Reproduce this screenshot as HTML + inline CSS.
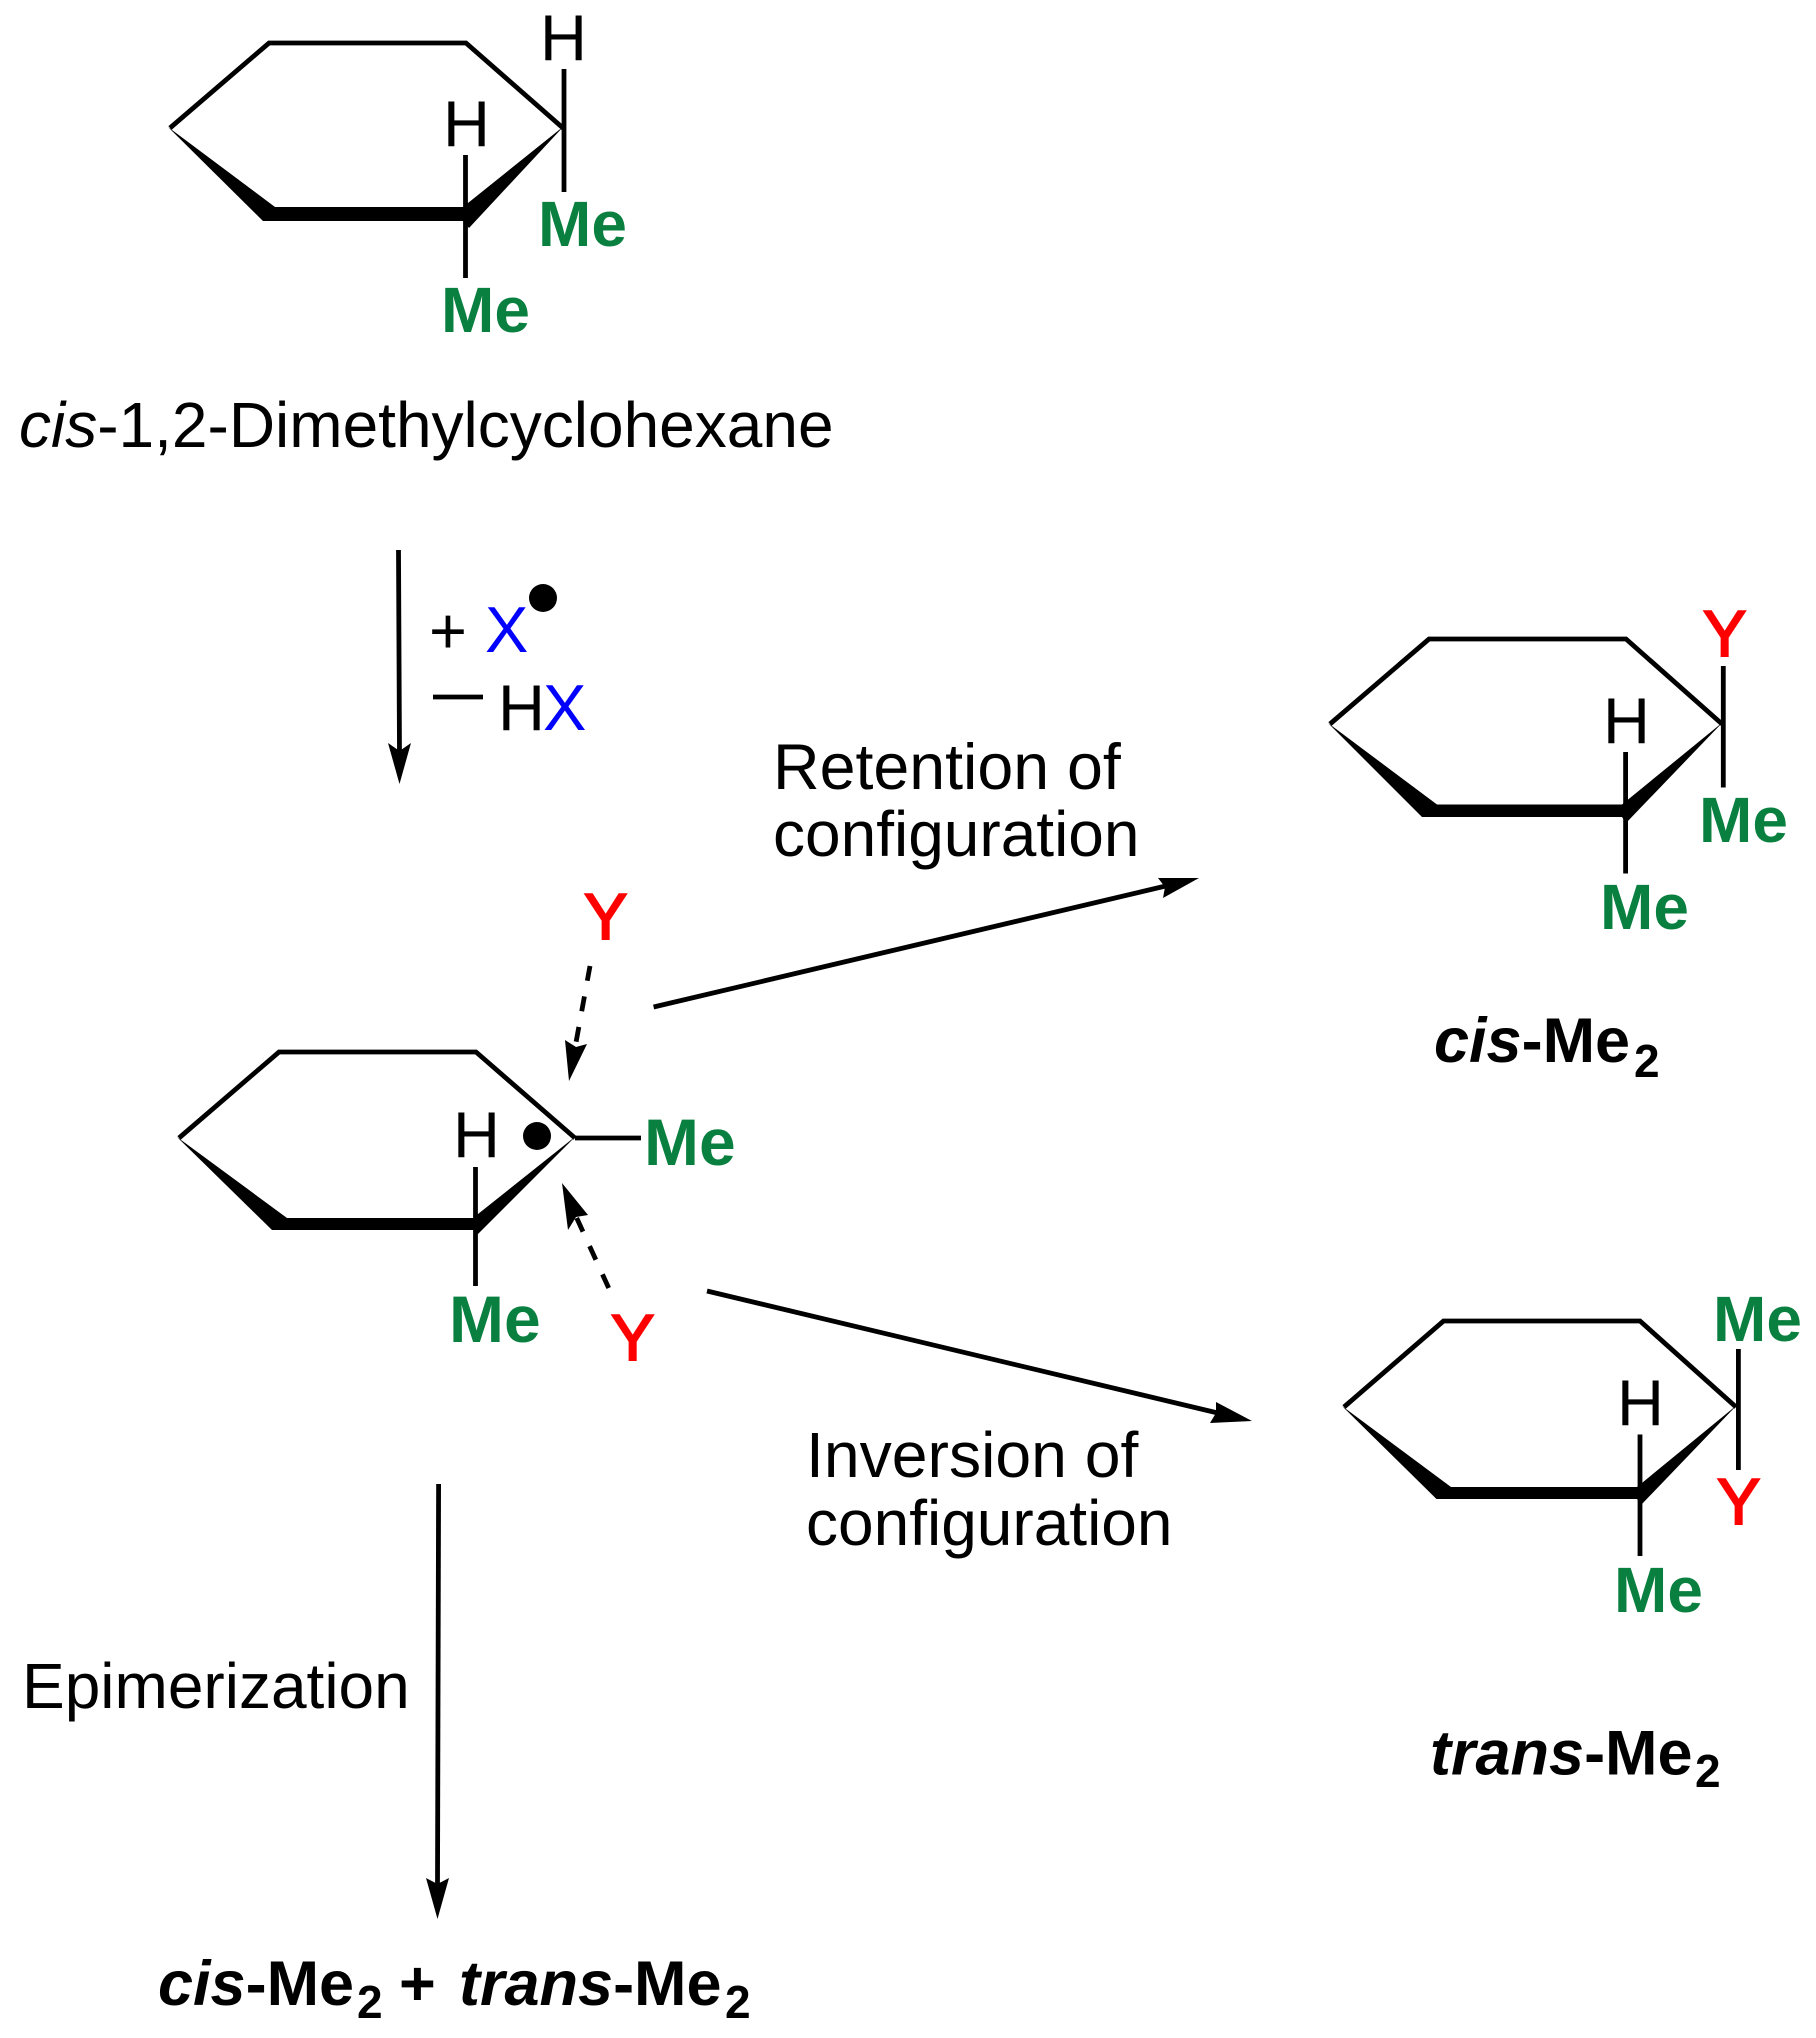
<!DOCTYPE html>
<html><head><meta charset="utf-8"><style>
html,body{margin:0;padding:0;background:#fff}
svg{display:block}
text{font-family:"Liberation Sans",Arial,sans-serif;font-size:64px;fill:#000}
.g{fill:#0a8040;font-weight:bold;font-size:64px}
.rn{fill:#ff0000;font-size:65px;stroke:#ff0000;stroke-width:2}
.b{fill:#0000ff;font-size:65px}
.k{font-weight:bold;font-size:63px}
.ki{font-weight:bold;font-style:italic;font-size:63px}
.s{font-weight:bold;font-size:46px}
line,polyline{stroke:#000;stroke-width:4.800;fill:none}
polygon{fill:#000}
</style></head><body>
<svg xmlns="http://www.w3.org/2000/svg" width="1816" height="2038" viewBox="0 0 1816 2038">
<rect width="1816" height="2038" fill="#fff"/>

<!-- Ring 1 -->
<polyline points="170,128 269,43 466,43 563,128"/>
<polygon points="168,127 275,207 463,207 564,126 469,228 463,221 263,221"/>
<line x1="564" y1="69" x2="564" y2="192"/>
<line x1="465.500" y1="155" x2="465.500" y2="278"/>
<text x="540" y="60" style="font-size:65px">H</text>
<text x="443" y="146" style="font-size:65px">H</text>
<text class="g" x="538" y="246">Me</text>
<text class="g" x="441" y="332">Me</text>
<text x="19" y="447"><tspan font-style="italic">cis</tspan>-1,2-Dimethylcyclohexane</text>

<!-- Arrow 1 -->
<polyline points="398.500,550 399.500,755"/>
<polygon points="399.500,784 388,743 399.500,751 411,743"/>
<text x="429" y="653" style="font-size:65px">+</text>
<text class="b" x="485" y="652">X</text>
<circle cx="543" cy="598" r="14"/>
<line x1="433" y1="697" x2="483" y2="697"/>
<text x="498" y="730" style="font-size:65px">H</text>
<text class="b" x="543" y="730">X</text>

<text x="773" y="789" style="font-size:64.500px">Retention of</text>
<text x="773" y="856">configuration</text>

<!-- Ring 2 -->
<polyline points="179,1138 279,1052 476,1052 575,1138"/>
<polygon points="177,1137 287,1218 473,1218 576,1136 478,1234 474,1230 272,1230"/>
<line x1="475.500" y1="1167" x2="475.500" y2="1286"/>
<line x1="575" y1="1138" x2="641" y2="1138"/>
<text x="453" y="1157" style="font-size:65px">H</text>
<circle cx="537" cy="1136" r="14"/>
<text class="g" x="644" y="1165" style="font-size:66px">Me</text>
<text class="g" x="449" y="1342" style="font-size:66px">Me</text>

<!-- Dashed arrows -->
<text class="rn" x="584" y="939">Y</text>
<line x1="590" y1="966" x2="575" y2="1048" stroke-dasharray="15 16"/>
<polygon points="569,1081 565,1040 576,1047 587,1044"/>
<text class="rn" x="611" y="1360">Y</text>
<line x1="608.700" y1="1288" x2="574" y2="1212" stroke-dasharray="15 16"/>
<polygon points="562,1183 588,1215 576,1217 568,1230"/>

<!-- Retention arrow -->
<line x1="653.600" y1="1007" x2="1170" y2="885"/>
<polygon points="1199,878 1158,878 1165,887 1163,898"/>

<!-- Inversion arrow -->
<line x1="707" y1="1291" x2="1222" y2="1414"/>
<polygon points="1252,1421 1216,1402 1216,1413 1210,1423"/>
<text x="806" y="1477" style="font-size:64.300px">Inversion of</text>
<text x="806" y="1545">configuration</text>

<!-- Ring 3 -->
<polyline points="1330,724 1429,639 1626,639 1722,724"/>
<polygon points="1328,723 1437,804.500 1622,804.500 1723,722 1626,823 1622,817 1422,817"/>
<text class="rn" x="1703" y="656">Y</text>
<line x1="1723.300" y1="666" x2="1723.300" y2="787.500"/>
<line x1="1625.600" y1="752" x2="1625.600" y2="873.500"/>
<text x="1603" y="743" style="font-size:65px">H</text>
<text class="g" x="1699" y="842">Me</text>
<text class="g" x="1600" y="929">Me</text>
<text x="1434" y="1062"><tspan class="ki">cis</tspan><tspan class="k">-Me</tspan></text>
<text class="s" x="1634" y="1077">2</text>

<!-- Ring 4 -->
<polyline points="1344,1407 1443.500,1321 1640,1321 1736,1407"/>
<polygon points="1342,1406 1451,1487 1637,1487 1737,1405 1641,1505 1637,1499 1436.500,1499"/>
<text class="g" x="1713" y="1341">Me</text>
<line x1="1738.400" y1="1349" x2="1738.400" y2="1470"/>
<text class="rn" x="1717" y="1524">Y</text>
<line x1="1640" y1="1434.500" x2="1640" y2="1556"/>
<text x="1617" y="1425" style="font-size:65px">H</text>
<text class="g" x="1614" y="1612">Me</text>
<text x="1430" y="1774.500"><tspan class="ki">trans</tspan><tspan class="k">-Me</tspan></text>
<text class="s" x="1695" y="1787">2</text>

<!-- Arrow epimerization -->
<line x1="438.600" y1="1484" x2="437.500" y2="1885"/>
<polygon points="437.500,1919 426,1878 437.500,1884 449,1878"/>
<text x="22" y="1708" style="font-size:64px">Epimerization</text>

<!-- Bottom label -->
<text x="158" y="2005"><tspan class="ki">cis</tspan><tspan class="k">-Me</tspan></text>
<text class="s" x="357" y="2018">2</text>
<text class="k" x="399" y="2005">+</text>
<text x="459" y="2005"><tspan class="ki">trans</tspan><tspan class="k">-Me</tspan></text>
<text class="s" x="725" y="2018">2</text>
</svg>
</body></html>
